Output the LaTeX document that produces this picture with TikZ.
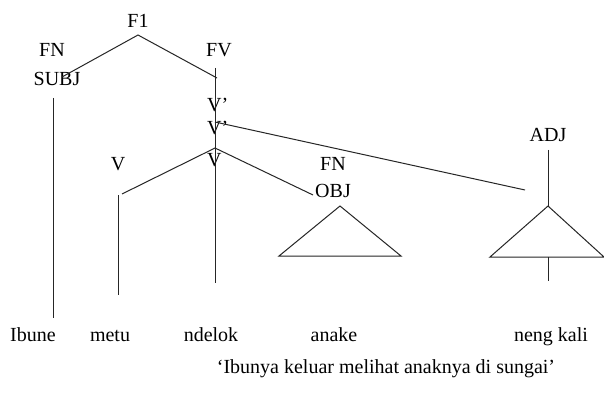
\documentclass[tikz,border=0pt]{standalone}
\usepackage{fontspec}
\setmainfont{Liberation Serif}
\begin{document}
\begin{tikzpicture}[x=1pt,y=-1pt,
  lbl/.style={anchor=base,inner sep=0pt,font=\fontsize{20}{22}\selectfont},
  ln/.style={line width=1pt,draw=black!85}]
\useasboundingbox[fill=white] (0,0) rectangle (604,398);
% labels
\node[lbl] (f1) at (138,28) {F1};
\node[lbl] (fn1) at (52,57) {FN};
\node[lbl] (subj) at (57,86) {SUBJ};
\node[lbl] (fv) at (219,57) {FV};
\node[lbl,anchor=base west] (vb1) at (207,112) {V’};
\node[lbl,anchor=base west] (vb2) at (207,135) {V’};
\node[lbl,anchor=base west] (v0) at (207,167) {V};
\node[lbl] (vl) at (118,170) {V};
\node[lbl] (fn2) at (333,170) {FN};
\node[lbl] (obj) at (333,197) {OBJ};
\node[lbl] (adj) at (548,142) {ADJ};
\node[lbl] (w1) at (33,341) {Ibune};
\node[lbl] (w2) at (110,341) {metu};
\node[lbl] (w3) at (211,341) {ndelok};
\node[lbl] (w4) at (334,341) {anake};
\node[lbl] (w5) at (551,341) {neng kali};
\node[lbl] (tr) at (386,373) {‘Ibunya keluar melihat anaknya di sungai’};
% coordinates
\coordinate (top) at (138,35);
\coordinate (subjend) at (62,77);
\coordinate (fvend) at (217,78);
\coordinate (fvtop) at (215,68);
\coordinate (fvbot) at (215,283);
\coordinate (vbar) at (215,122);
\coordinate (adjend) at (525,190);
\coordinate (vnode) at (215,148);
\coordinate (vlend) at (122,194);
\coordinate (vltop) at (118,195);
\coordinate (vlbot) at (118,295);
\coordinate (objend) at (313,195);
\coordinate (ta) at (340,206);
\coordinate (tl) at (279,256);
\coordinate (tr2) at (401,256);
\coordinate (adjtop) at (548,150);
\coordinate (aa) at (548,206);
\coordinate (al) at (490,257);
\coordinate (ar) at (604,257);
\coordinate (ab) at (548,281);
\coordinate (ibtop) at (53,98);
\coordinate (ibbot) at (53,318);
% lines
\draw[ln] (subjend) -- (top) -- (fvend);
\draw[ln] (fvtop) -- (fvbot);
\draw[ln] (vbar) -- (adjend);
\draw[ln] (vlend) -- (vnode) -- (objend);
\draw[ln] (vltop) -- (vlbot);
\draw[ln] (ta) -- (tl) -- (tr2) -- cycle;
\draw[ln] (adjtop) -- (aa);
\draw[ln] (aa) -- (al) -- (ar) -- cycle;
\draw[ln] (aa |- al) -- (ab);
\draw[ln] (ibtop) -- (ibbot);
\end{tikzpicture}
\end{document}
